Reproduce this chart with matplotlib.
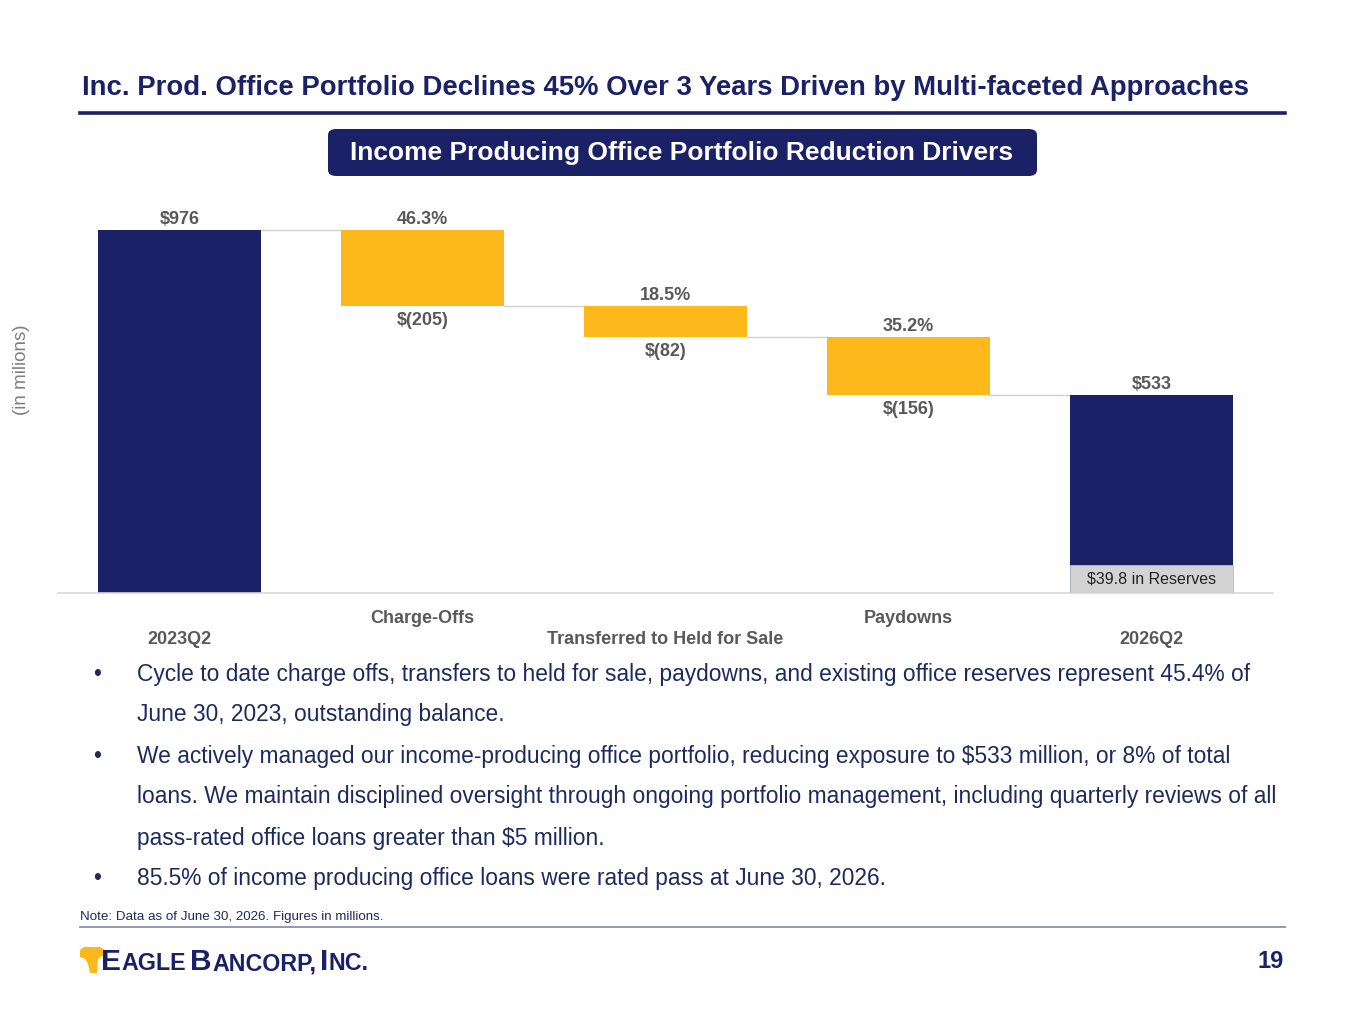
import matplotlib
matplotlib.use("Agg")
import matplotlib.pyplot as plt
from matplotlib import font_manager
from matplotlib.patches import FancyBboxPatch, Rectangle, Polygon
from matplotlib.lines import Line2D

# ---------------- data ----------------
categories = ["2023Q2", "Charge-Offs", "Transferred to Held for Sale", "Paydowns", "2026Q2"]
values = [976, -205, -82, -156, 533]
kinds = ["total", "delta", "delta", "delta", "total"]
pct_labels = ["", "46.3%", "18.5%", "35.2%", ""]
reserves = 39.8

title = "Inc. Prod. Office Portfolio Declines 45% Over 3 Years Driven by Multi-faceted Approaches"
subtitle = "Income Producing Office Portfolio Reduction Drivers"
bullets = [
    ["Cycle to date charge offs, transfers to held for sale, paydowns, and existing office reserves represent 45.4% of",
     "June 30, 2023, outstanding balance."],
    ["We actively managed our income-producing office portfolio, reducing exposure to $533 million, or 8% of total",
     "loans. We maintain disciplined oversight through ongoing portfolio management, including quarterly reviews of all",
     "pass-rated office loans greater than $5 million."],
    ["85.5% of income producing office loans were rated pass at June 30, 2026."],
]
note = "Note: Data as of June 30, 2026. Figures in millions."
page_no = "19"

# ---------------- style ----------------
NAVY = "#1B2166"
GOLD = "#FDB81C"
LABEL_GRAY = "#595959"
TEXT_NAVY = "#1E2A5E"
RES_GRAY = "#D3D3D3"
W, H = 1365, 1024
BAR_W = 0.667
RESERVE_BOX_H = 75

names = {f.name for f in font_manager.fontManager.ttflist}
BASE = "Liberation Sans" if "Liberation Sans" in names else "DejaVu Sans"
NARROW = "Liberation Sans Narrow" if "Liberation Sans Narrow" in names else BASE
plt.rcParams["font.family"] = [BASE, "DejaVu Sans"]

fig = plt.figure(figsize=(W / 100, H / 100), dpi=100)
renderer = fig.canvas.get_renderer()


def fx(px):
    return px / W


def fy(py):
    return 1 - py / H


def fit_width(t, target):
    bb = t.get_window_extent(renderer)
    t.set_fontsize(t.get_fontsize() * target / bb.width)
    return t.get_fontsize()


# ---------------- header ----------------
t = fig.text(fx(82), fy(88), title, fontsize=20, fontweight="bold", color=NAVY,
             family=[NARROW, BASE], ha="left", va="center")
fit_width(t, 1166)
fig.add_artist(Line2D([fx(80), fx(1285)], [fy(113), fy(113)], color=NAVY, lw=2.6))

box = FancyBboxPatch((fx(328), fy(176)), fx(1037) - fx(328), fy(129) - fy(176),
                     boxstyle="round,pad=0,rounding_size=0.006", transform=fig.transFigure,
                     facecolor=NAVY, edgecolor="none")
fig.add_artist(box)
t = fig.text(fx(682), fy(153), subtitle, fontsize=17, fontweight="bold", color="white",
             ha="center", va="center")
fit_width(t, 663)

# ---------------- chart ----------------
ax = fig.add_axes([fx(58), fy(593), fx(1273) - fx(58), fy(202) - fy(593)])
ax.set_xlim(-0.5, len(categories) - 0.5)
ax.set_ylim(0, 1051)
for s in ["top", "left", "right"]:
    ax.spines[s].set_visible(False)
ax.spines["bottom"].set_color("#D9D9D9")
ax.spines["bottom"].set_linewidth(1.2)
ax.set_xticks([])
ax.set_yticks([])

running = 0
levels = []
for i, (v, k) in enumerate(zip(values, kinds)):
    if k == "total":
        bottom, height, color = 0, v, NAVY
        running = v
    else:
        bottom, height, color = running + v, -v, GOLD
        running = running + v
    levels.append(running)
    ax.bar(i, height, bottom=bottom, width=BAR_W, color=color, zorder=2)
    top = bottom + height
    if k == "total":
        ax.annotate(f"${v:,.0f}", (i, top), xytext=(0, 7.5), textcoords="offset points",
                    ha="center", va="center", fontsize=13, fontweight="bold", color=LABEL_GRAY)
    else:
        ax.annotate(pct_labels[i], (i, top), xytext=(0, 7.5), textcoords="offset points",
                    ha="center", va="center", fontsize=13, fontweight="bold", color=LABEL_GRAY)
        ax.annotate(f"$({-v:,.0f})", (i, bottom), xytext=(0, -10.5), textcoords="offset points",
                    ha="center", va="center", fontsize=13, fontweight="bold", color=LABEL_GRAY)

for i in range(len(categories) - 1):
    ax.plot([i + BAR_W / 2, i + 1 - BAR_W / 2], [levels[i], levels[i]],
            color="#D0D0D0", lw=1.0, zorder=1)

# reserves box inside last bar
last = len(categories) - 1
ax.add_patch(Rectangle((last - BAR_W / 2, 0), BAR_W, RESERVE_BOX_H, facecolor=RES_GRAY,
                       edgecolor="#B8BCD0", lw=0.6, zorder=3))
ax.text(last, RESERVE_BOX_H / 2, f"${reserves} in Reserves", ha="center", va="center",
        fontsize=11.5, color="#222222", zorder=4)

# staggered category labels
for i, c in enumerate(categories):
    off = -18.7 if i % 2 == 1 else -33.8
    ax.annotate(c, (i, 0), xycoords=("data", "axes fraction"), xytext=(0, off),
                textcoords="offset points", ha="center", va="center", fontsize=13,
                fontweight="bold", color=LABEL_GRAY, annotation_clip=False)

fig.text(fx(22), fy(370), "(in milions)", rotation=90, ha="center", va="center",
         fontsize=13.5, color="#7F7F7F")

# ---------------- bullets ----------------
t0 = fig.text(fx(137), fy(674), bullets[0][0], fontsize=15, color=TEXT_NAVY, ha="left", va="center")
bfs = fit_width(t0, 1108)
y = 674
first = True
for para in bullets:
    fig.text(fx(97), fy(y), "•", fontsize=bfs, color=TEXT_NAVY, ha="center", va="center")
    for j, line in enumerate(para):
        if first:
            first = False
        else:
            fig.text(fx(137), fy(y), line, fontsize=bfs, color=TEXT_NAVY, ha="left", va="center")
        y += 41

# ---------------- footer ----------------
t = fig.text(fx(80), fy(917), note, fontsize=9, color=TEXT_NAVY, ha="left", va="center")
fit_width(t, 306)
fig.add_artist(Line2D([fx(80), fx(1285)], [fy(927), fy(927)], color="#8A90B0", lw=1.3))

# logo icon (gold block with eagle-head cutout)
icon = Polygon([(fx(80), fy(950)), (fx(84), fy(947)), (fx(100), fy(947)), (fx(108), fy(952)),
                (fx(108), fy(958)), (fx(102), fy(956)), (fx(98), fy(959)), (fx(97), fy(973)),
                (fx(90), fy(973)), (fx(88), fy(964)), (fx(85), fy(959)), (fx(80), fy(957))],
               closed=True, transform=fig.transFigure, facecolor=GOLD, edgecolor="none")
fig.add_artist(icon)

# logo wordmark with small caps imitation
pieces = [("E", 1.0, 0), ("AGLE", 0.78, 4), ("B", 1.0, 0), ("ANCORP,", 0.78, 3),
          ("I", 1.0, 0), ("NC.", 0.78, 0)]
big = 21.5
xpx = 101
for txt, scale, gap in pieces:
    tt = fig.text(fx(xpx), fy(970), txt, fontsize=big * scale, color=NAVY, fontweight="bold",
                  ha="left", va="baseline", family=[NARROW, BASE])
    bb = tt.get_window_extent(renderer)
    xpx += bb.width + gap + 0.5

fig.text(fx(1284), fy(962), page_no, fontsize=17, fontweight="bold", color=NAVY,
         ha="right", va="center")

fig.savefig("out.png", dpi=100)
